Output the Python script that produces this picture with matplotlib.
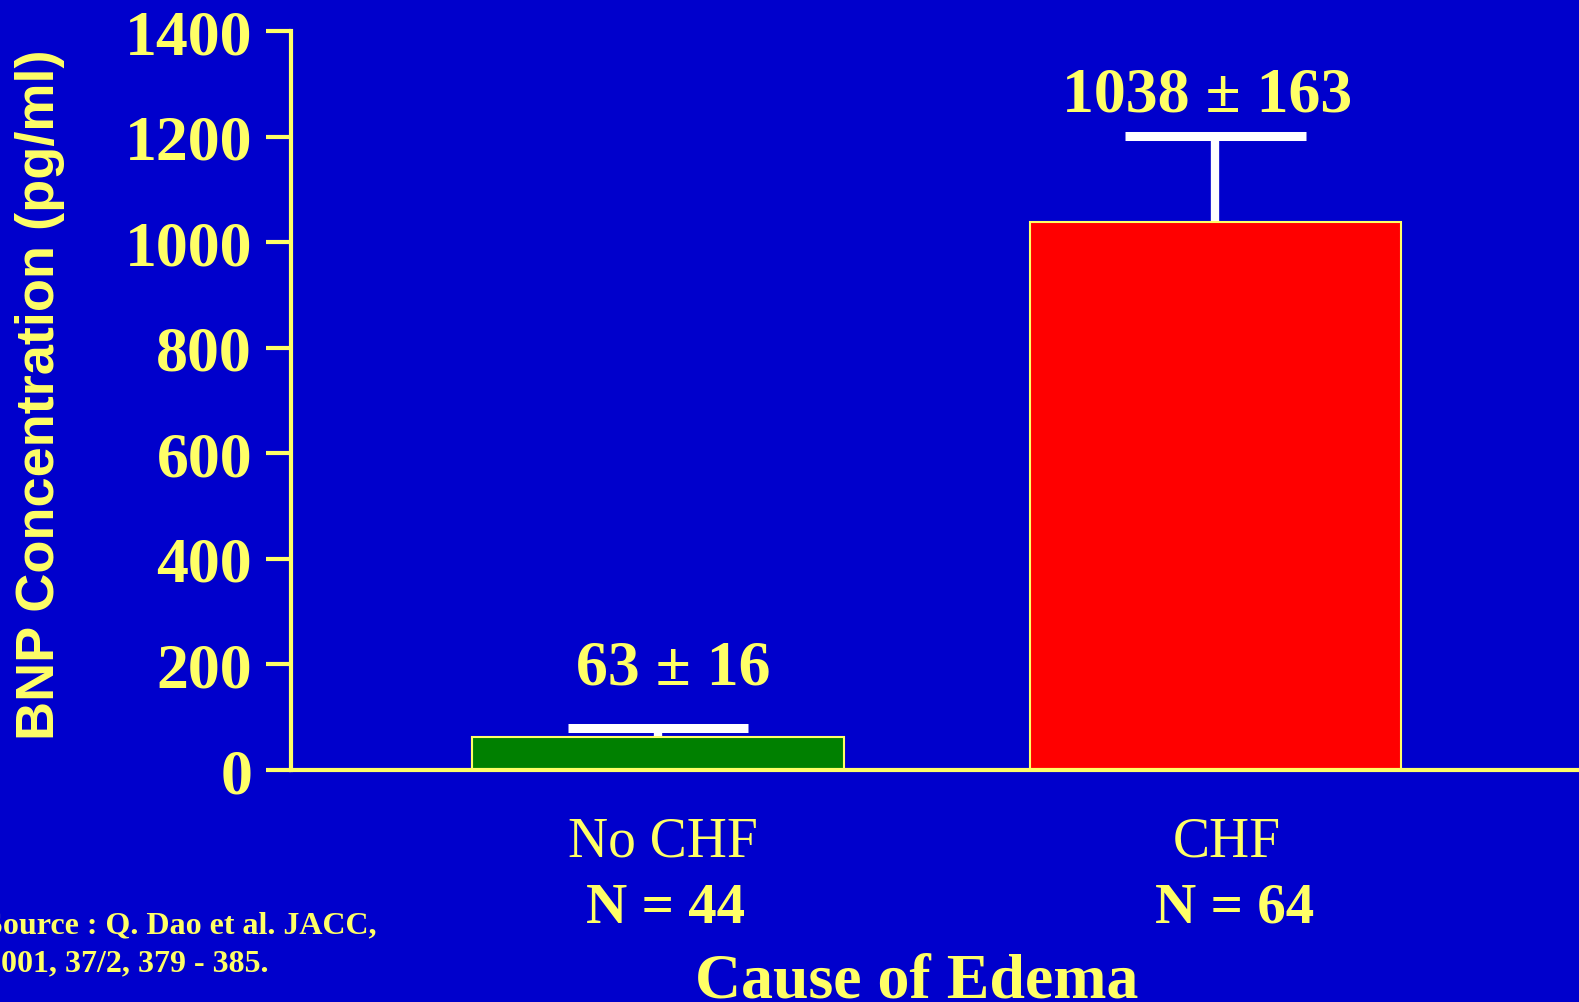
import matplotlib
matplotlib.use("Agg")
from matplotlib import pyplot as plt
from matplotlib import transforms

# BNP concentration by cause of edema (mean +/- SEM).
groups = ["No CHF", "CHF"]
group_n = ["N = 44", "N = 64"]
bnp_mean = [63, 1038]
bnp_sem = [16, 163]
bar_colors = ["#008000", "#FF0000"]
yticks = [0, 200, 400, 600, 800, 1000, 1200, 1400]

bg = "#0000CC"
yellow = "#FFFF66"
serif = "Liberation Serif"
sans = "Liberation Sans"

fig = plt.figure(figsize=(15.79, 10.03), dpi=100, facecolor=bg)
ax = fig.add_axes([0.1843, 0.2313, 0.8157, 0.7367], facecolor=bg)

x = [0, 1]
ax.bar(x, bnp_mean, width=0.667, color=bar_colors, edgecolor=yellow,
       linewidth=1.5, zorder=2)

# upper error bars only: stem + cap
tops = [m + s for m, s in zip(bnp_mean, bnp_sem)]
cap_half = 0.162
ax.vlines(x, bnp_mean, tops, colors="white", linewidth=6, zorder=1)
ax.hlines(tops, [xi - cap_half for xi in x], [xi + cap_half for xi in x],
          colors="white", linewidth=6.5, zorder=1)

# mean +/- sem labels above the bars
label_y = [163, 1250]
label_dx = [0.027, -0.015]
for i in range(len(x)):
    ax.text(x[i] + label_dx[i], label_y[i], f"{bnp_mean[i]} \u00b1 {bnp_sem[i]}",
            ha="center", va="baseline", color=yellow, fontsize=46,
            fontweight="bold", family=serif)

ax.set_xlim(-0.658, 1.652)
ax.set_ylim(0, 1400)
ax.set_yticks(yticks)
ax.set_xticks([])

for side in ["top", "right"]:
    ax.spines[side].set_visible(False)
for side in ["left", "bottom"]:
    ax.spines[side].set_color(yellow)
    ax.spines[side].set_linewidth(3)

ax.tick_params(axis="y", colors=yellow, length=18, width=3, pad=10,
               labelsize=46)
for lbl in ax.get_yticklabels():
    lbl.set_fontfamily(serif)
    lbl.set_fontweight("bold")

# group names and sample sizes under the axis
trans = transforms.blended_transform_factory(ax.transData, fig.transFigure)
name_dx = [0.009, 0.021]
n_dx = [0.014, 0.034]
for i in range(len(x)):
    ax.text(x[i] + name_dx[i], 1 - 857 / 1003, groups[i], transform=trans,
            ha="center", va="baseline", color=yellow, fontsize=40,
            family=serif)
    ax.text(x[i] + n_dx[i], 1 - 923 / 1003, group_n[i], transform=trans,
            ha="center", va="baseline", color=yellow, fontsize=41,
            fontweight="bold", family=serif)

fig.text(917 / 1579, 5 / 1003, "Cause of Edema", ha="center", va="baseline",
         color=yellow, fontsize=46, fontweight="bold", family=serif)

fig.text(40 / 1579, 0.606, "BNP Concentration (pg/ml)", rotation=90,
         ha="center", va="center", color=yellow, fontsize=39,
         fontweight="bold", family=sans)

fig.text(-15 / 1579, 1 - 933 / 1003, "Source : Q. Dao et al. JACC,",
         ha="left", va="baseline", color=yellow, fontsize=23,
         fontweight="bold", family=serif)
fig.text(-15 / 1579, 1 - 971 / 1003, "2001, 37/2, 379 - 385.",
         ha="left", va="baseline", color=yellow, fontsize=23,
         fontweight="bold", family=serif)

fig.savefig("out.png", dpi=100, facecolor=bg)
